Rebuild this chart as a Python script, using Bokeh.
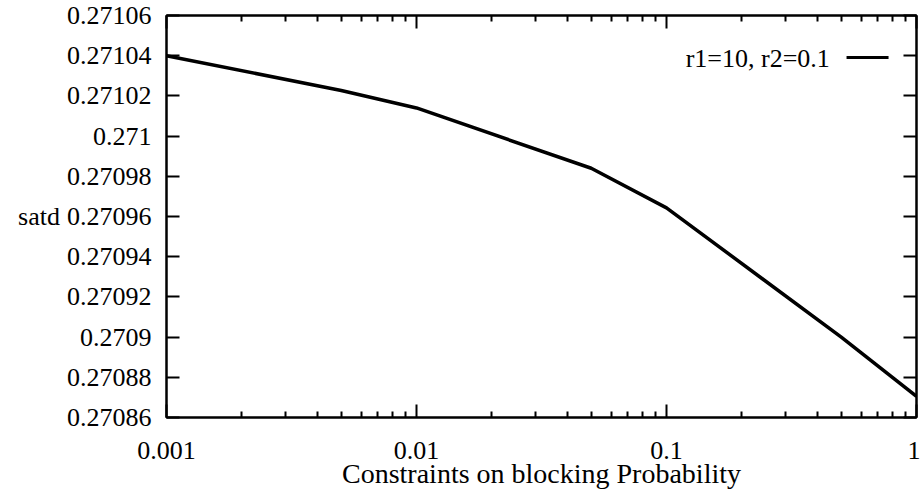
from bokeh.plotting import figure
from bokeh.models import (LogAxis, LinearAxis, FixedTicker, Label, BoxAnnotation,
                          Range1d, PrintfTickFormatter)
from bokeh.embed import file_html
from bokeh.resources import INLINE

# data
x_values = [0.001, 0.005, 0.01, 0.05, 0.1, 0.5, 1.0]
satd_values = [0.27104, 0.2710227, 0.271014, 0.270984, 0.2709643, 0.2709, 0.2708705]
series_label = "r1=10, r2=0.1"

y_ticks = [0.27086, 0.27088, 0.2709, 0.27092, 0.27094, 0.27096,
           0.27098, 0.271, 0.27102, 0.27104, 0.27106]
y_tick_labels = ["0.27086", "0.27088", "0.2709", "0.27092", "0.27094", "0.27096",
                 "0.27098", "0.271", "0.27102", "0.27104", "0.27106"]
x_ticks = [0.001, 0.01, 0.1, 1.0]
x_tick_labels = ["0.001", "0.01", "0.1", "1"]
x_minor_ticks = [m * d for d in [0.001, 0.01, 0.1] for m in range(2, 10)]

FONT = "'Liberation Serif', 'DejaVu Serif', serif"
TICK_FS = "26px"
LABEL_FS = "28px"

p = figure(width=920, height=491, x_axis_type="log",
           x_range=Range1d(0.001, 1.0), y_range=Range1d(0.27086, 0.27106),
           output_backend="svg", toolbar_location=None,
           min_border_left=166, min_border_right=4,
           min_border_top=15, min_border_bottom=74)

p.xgrid.visible = False
p.ygrid.visible = False
p.outline_line_color = "black"
p.outline_line_width = 2
p.background_fill_color = "white"
p.border_fill_color = "white"

p.line(x_values, satd_values, line_width=3.5, color="black")


def style_axis(ax, show_labels):
    ax.axis_line_color = "black"
    ax.axis_line_width = 2
    ax.major_tick_in = 13
    ax.major_tick_out = 0
    ax.minor_tick_in = 6
    ax.minor_tick_out = 0
    ax.major_tick_line_width = 2
    ax.minor_tick_line_width = 2
    ax.major_tick_line_color = "black"
    ax.minor_tick_line_color = "black"
    ax.major_label_text_font = FONT
    if show_labels:
        ax.major_label_text_font_size = TICK_FS
        ax.major_label_text_color = "black"
    else:
        ax.major_label_text_font_size = "1px"
        ax.major_label_text_color = None
        ax.major_label_standoff = 0


# bottom x axis
xa = p.xaxis[0]
xa.ticker = FixedTicker(ticks=x_ticks, minor_ticks=x_minor_ticks)
xa.formatter = PrintfTickFormatter(format="%g")
xa.major_label_overrides = dict(zip(x_ticks, x_tick_labels))
style_axis(xa, True)
xa.major_label_standoff = 24
xa.axis_label = "Constraints on blocking Probability"
xa.axis_label_text_font = FONT
xa.axis_label_text_font_size = LABEL_FS
xa.axis_label_text_font_style = "normal"
xa.axis_label_text_color = "black"
xa.axis_label_standoff = -4

# left y axis
ya = p.yaxis[0]
ya.ticker = FixedTicker(ticks=y_ticks)
ya.formatter = PrintfTickFormatter(format="%g")
ya.major_label_overrides = dict(zip(y_ticks, y_tick_labels))
style_axis(ya, True)
ya.major_label_standoff = 15
ya.axis_label = "satd"
ya.axis_label_orientation = "horizontal"
ya.axis_label_text_font = FONT
ya.axis_label_text_font_size = TICK_FS
ya.axis_label_text_font_style = "normal"
ya.axis_label_text_color = "black"
ya.axis_label_standoff = 4

# top and right mirror axes (ticks only)
top = LogAxis(ticker=FixedTicker(ticks=x_ticks, minor_ticks=x_minor_ticks))
style_axis(top, False)
p.add_layout(top, "above")

right = LinearAxis(ticker=FixedTicker(ticks=y_ticks))
style_axis(right, False)
p.add_layout(right, "right")

# key: text followed by line sample (gnuplot style)
p.add_layout(Label(x=0.45, y=0.2710386, text=series_label, text_align="right",
                   text_baseline="alphabetic", text_font=FONT,
                   text_font_size=TICK_FS, text_color="black"))
p.add_layout(BoxAnnotation(left=0.525, right=0.773,
                           top=0.27103985, bottom=0.27103835,
                           fill_color="black", fill_alpha=1.0, line_color=None))

open("out.html", "w").write(file_html(p, INLINE))
